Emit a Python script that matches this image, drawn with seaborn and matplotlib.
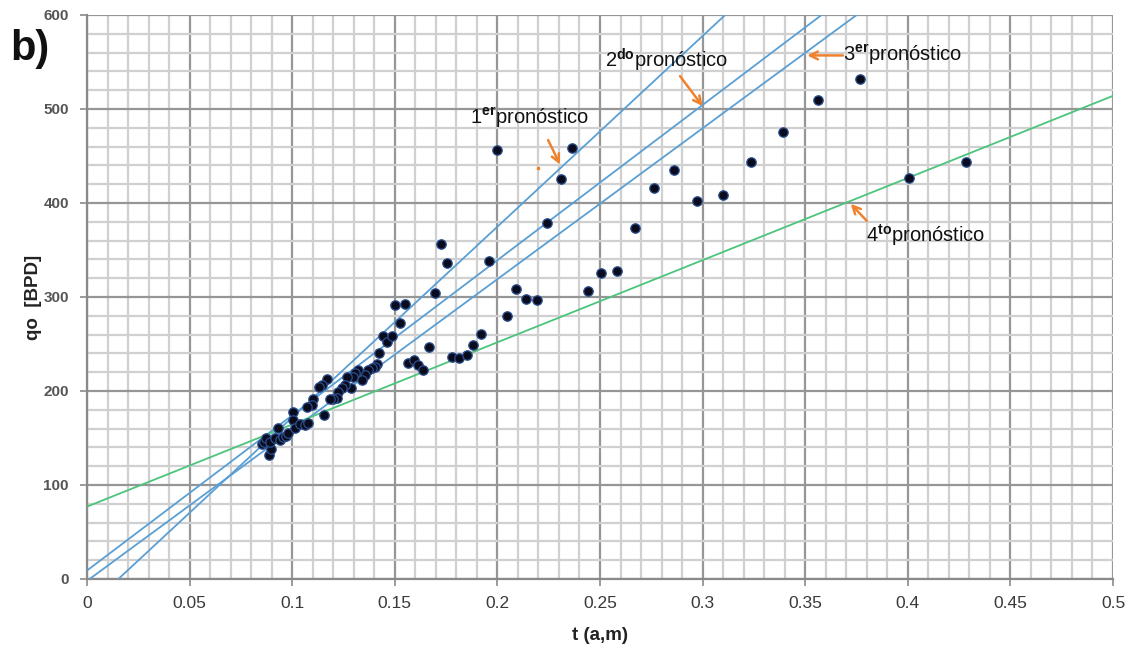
import numpy as np
import pandas as pd
import matplotlib
matplotlib.use("Agg")
import matplotlib.pyplot as plt
from matplotlib import font_manager
from matplotlib.ticker import MultipleLocator
import seaborn as sns

# ---------------- data ----------------
t_vals = [0.2000, 0.2365, 0.2308, 0.2240, 0.1724, 0.1756, 0.1959, 0.1696, 0.1501, 0.1550,
          0.1525, 0.2091, 0.2139, 0.2191, 0.2045, 0.1920, 0.1883, 0.1665, 0.1777, 0.1813,
          0.1850, 0.1566, 0.1594, 0.1615, 0.1639, 0.2441, 0.2505, 0.2584, 0.2670, 0.2765,
          0.2862, 0.2971, 0.3098, 0.3234, 0.3390, 0.3564, 0.3767, 0.4006, 0.4282,
          0.1444, 0.1463, 0.1488, 0.1425, 0.1412, 0.1404, 0.1387, 0.1371, 0.1355, 0.1339,
          0.1322, 0.1306, 0.1298, 0.1285, 0.1265, 0.1257, 0.1241, 0.1225, 0.1217, 0.1200,
          0.1184, 0.1168, 0.1157, 0.1144, 0.1132, 0.1103, 0.1095, 0.1070, 0.1002,
          0.0853, 0.0863, 0.0872, 0.0887, 0.0897, 0.0890, 0.0916, 0.0930, 0.0940, 0.0955,
          0.0970, 0.0980, 0.1004, 0.1014, 0.1038, 0.1062, 0.1077]
q_vals = [456, 458, 426, 379, 356, 336, 338, 304, 292, 293,
          272, 308, 298, 297, 280, 261, 249, 247, 236, 235,
          238, 230, 233, 228, 222, 306, 326, 328, 373, 416,
          435, 402, 408, 444, 476, 510, 532, 427, 444,
          258, 252, 258, 240, 229, 226, 224, 222, 217, 212,
          222, 219, 215, 203, 215, 206, 203, 199, 193, 191,
          192, 213, 174, 206, 204, 192, 185, 183, 178,
          144, 146, 150, 132, 138, 146, 150, 161, 148, 151,
          152, 155, 169, 161, 165, 164, 166]

# forecast lines q = intercept + slope * t
forecast_names = ["1er", "2do", "3er", "4to"]
forecast_intercepts = [-31, 9, -2, 77]
forecast_slopes = [2029, 1651, 1605, 874]
forecast_colors = ["#5a9fd4", "#5a9fd4", "#5a9fd4", "#4cc47c"]

x_ticks = [0, 0.05, 0.1, 0.15, 0.2, 0.25, 0.3, 0.35, 0.4, 0.45, 0.5]
x_tick_labels = ["0", "0.05", "0.1", "0.15", "0.2", "0.25", "0.3", "0.35", "0.4", "0.45", "0.5"]
y_ticks = [0, 100, 200, 300, 400, 500, 600]

# annotations: (number, superscript, text position, arrow tail, arrow head)
ann_num = ["1", "2", "3", "4"]
ann_sup = ["er", "do", "er", "to"]
ann_text_xy = [(0.1866, 490), (0.2524, 552), (0.3684, 557), (0.3796, 366)]
ann_tail = [(0.2247, 467), (0.2890, 535), (0.3684, 557), (0.3800, 381)]
ann_head = [(0.2305, 441), (0.3000, 503), (0.3510, 557), (0.3722, 399)]

# ---------------- style ----------------
sns.set_theme(style="white")
plt.rcParams["font.family"] = ["Liberation Sans", "DejaVu Sans"]
plt.rcParams["mathtext.fontset"] = "custom"
plt.rcParams["mathtext.rm"] = "Liberation Sans"
plt.rcParams["mathtext.bf"] = "Liberation Sans:bold"

def has_font(name):
    try:
        font_manager.findfont(font_manager.FontProperties(family=name), fallback_to_default=False)
        return True
    except Exception:
        return False

narrow = "Liberation Sans Narrow" if has_font("Liberation Sans Narrow") else "Liberation Sans"

fig = plt.figure(figsize=(11.35, 6.51), dpi=100)
ax = fig.add_axes([87 / 1135, 1 - 579 / 651, (1113 - 87) / 1135, (579 - 15) / 651])

# grid
ax.set_xlim(0, 0.5)
ax.set_ylim(0, 600)
ax.xaxis.set_major_locator(MultipleLocator(0.05))
ax.xaxis.set_minor_locator(MultipleLocator(0.01))
ax.yaxis.set_major_locator(MultipleLocator(100))
ax.yaxis.set_minor_locator(MultipleLocator(20))
ax.grid(which="minor", color="#d0d0d0", linewidth=1.6)
ax.grid(which="major", color="#969696", linewidth=1.6)
ax.set_axisbelow(True)
for side in ["top", "right"]:
    ax.spines[side].set_visible(False)
for side in ["left", "bottom"]:
    ax.spines[side].set_color("#8a8a8a")
    ax.spines[side].set_linewidth(1.6)

# forecast lines
tline = np.array([0.0, 0.5])
for name, b, m, c in zip(forecast_names, forecast_intercepts, forecast_slopes, forecast_colors):
    df_line = pd.DataFrame({"t": tline, "q": b + m * tline})
    sns.lineplot(data=df_line, x="t", y="q", ax=ax, color=c, linewidth=1.3, zorder=3)

# points
df = pd.DataFrame({"t": t_vals, "q": q_vals})
sns.scatterplot(data=df, x="t", y="q", ax=ax, color="#0b0b1e", edgecolor="#2a4f8f",
                linewidth=0.9, s=46, zorder=4)

ax.set_xlim(0, 0.5)
ax.set_ylim(0, 600)

# annotations
orange = "#f0822e"
for num, sup, txy, tail, head in zip(ann_num, ann_sup, ann_text_xy, ann_tail, ann_head):
    ax.text(txy[0], txy[1], num + r"$^{\mathbf{" + sup + r"}}$" + "pronóstico",
            fontsize=14.5, color="#111111", ha="left", va="center", zorder=6)
    ax.annotate("", xy=head, xytext=tail,
                arrowprops=dict(arrowstyle="->", color=orange, lw=1.8,
                                mutation_scale=14, shrinkA=0, shrinkB=0), zorder=6)
ax.plot([0.2198], [437], marker="s", markersize=1.6, color=orange, zorder=6)

# ticks
ax.set_xticks(x_ticks)
ax.set_xticklabels(x_tick_labels, fontsize=12.5, color="#3a3a3a", family=narrow)
ax.set_yticks(y_ticks)
ax.set_yticklabels([str(v) for v in y_ticks], fontsize=11, color="#555555", fontweight="bold")
ax.tick_params(axis="both", which="major", length=5, width=1.2, color="#8a8a8a",
               direction="out", bottom=True, left=True)
ax.tick_params(axis="x", which="major", pad=7)
ax.tick_params(axis="y", which="major", pad=8)
ax.tick_params(which="minor", length=0)

ax.set_xlabel("t (a,m)", fontsize=13.5, fontweight="bold", color="#222222", family=narrow, labelpad=12)
ax.set_ylabel("qo  [BPD]", fontsize=13.5, fontweight="bold", color="#222222")
ax.yaxis.set_label_coords(-(87 - 42) / 1026, 0.5)

fig.text(10 / 1135, 1 - 49 / 651, "b)", fontsize=30, fontweight="bold", color="#111111",
         ha="left", va="center")

fig.savefig("out.png", dpi=100)
